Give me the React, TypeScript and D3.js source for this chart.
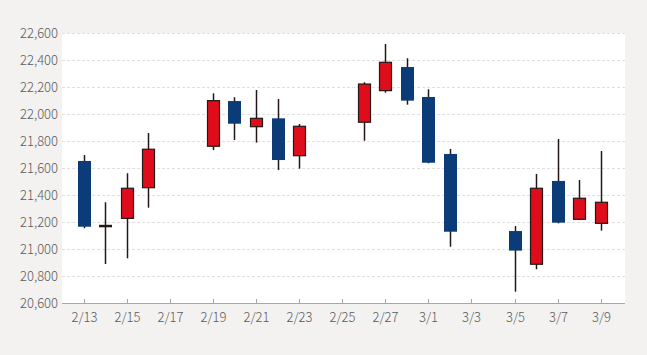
import React from "react";
import * as d3 from "d3";

const dates = ["2018-02-13","2018-02-14","2018-02-15","2018-02-16","2018-02-19","2018-02-20","2018-02-21","2018-02-22","2018-02-23","2018-02-26","2018-02-27","2018-02-28","2018-03-01","2018-03-02","2018-03-05","2018-03-06","2018-03-07","2018-03-08","2018-03-09"];
const opens =  [21652,21170,21227,21454,21761,22096,21906,21968,21691,21939,22173,22348,22126,21704,21133,20887,21504,21220,21190];
const highs =  [21696,21346,21561,21859,22153,22124,22178,22111,21926,22235,22519,22413,22183,21741,21170,21556,21815,21511,21726];
const lows =   [21154,20889,20931,21306,21733,21807,21788,21585,21595,21802,22158,22069,21635,21017,20684,20850,21190,21215,21136];
const closes = [21165,21170,21450,21739,22099,21928,21968,21659,21909,22222,22383,22099,21639,21128,20988,21450,21195,21376,21346];
const yTicks = [20600,20800,21000,21200,21400,21600,21800,22000,22200,22400,22600];
const xTickDates = ["2018-02-13","2018-02-15","2018-02-17","2018-02-19","2018-02-21","2018-02-23","2018-02-25","2018-02-27","2018-03-01","2018-03-03","2018-03-05","2018-03-07","2018-03-09"];

const parse = (s: string) => { const [y, m, d] = s.split("-").map(Number); return new Date(y, m - 1, d); };

export default function App() {
  const W = 647, H = 355;
  const L = 62, R = 625, T = 33, B = 303;
  const x = d3.scaleTime().domain([new Date(2018, 1, 12), new Date(2018, 2, 10, 3)]).range([L, R]);
  const y = d3.scaleLinear().domain([20600, 22600]).range([B, T]);
  const fmt = d3.format(",");
  const fmtDate = d3.timeFormat("%-m/%-d");
  const bw = 12;
  const red = "#df0d1b", blue = "#0b3c77", dark = "#231815";
  const font = "'Noto Sans CJK JP', 'Noto Sans', sans-serif";
  return (
    <svg width={W} height={H} style={{ position: "fixed", left: 0, top: 0, background: "#f3f2f1" }}>
      <rect x={0} y={0} width={W} height={H} fill="#f3f2f1" />
      <rect x={L} y={T} width={R - L} height={B - T} fill="#ffffff" />
      {yTicks.map((t) => (
        <g key={t}>
          {t !== 20600 && (
            <line x1={L} x2={R} y1={y(t) + 0.5} y2={y(t) + 0.5} stroke="#e0e0e0" strokeDasharray="3,2" strokeWidth={1} />
          )}
          <text x={58} y={y(t)} dy="0.36em" textAnchor="end" fontSize={13} fill="#5a5a5a" fontFamily={font} fontWeight={300}>{fmt(t)}</text>
        </g>
      ))}
      <line x1={L} x2={R} y1={B + 0.5} y2={B + 0.5} stroke="#a8a8a8" strokeWidth={1.2} />
      {xTickDates.map((s) => {
        const xv = Math.round(x(parse(s))) + 0.5;
        return (
          <g key={s}>
            <line x1={xv} x2={xv} y1={B - 4} y2={B} stroke="#a8a8a8" />
            <text x={xv} y={322} textAnchor="middle" fontSize={13} fill="#5a5a5a" fontFamily={font} fontWeight={300}>{fmtDate(parse(s))}</text>
          </g>
        );
      })}
      {dates.map((s, i) => {
        const cx = Math.round(x(parse(s))) + 0.5;
        const o = opens[i], c = closes[i], h = highs[i], l = lows[i];
        const up = c >= o;
        const top = y(Math.max(o, c)), bot = y(Math.min(o, c));
        const doji = Math.abs(o - c) < 5;
        return (
          <g key={s}>
            <line x1={cx} x2={cx} y1={y(h)} y2={y(l)} stroke={dark} strokeWidth={1.5} />
            {doji ? (
              <line x1={cx - bw / 2 - 0.5} x2={cx + bw / 2 + 0.5} y1={top} y2={top} stroke={dark} strokeWidth={2.5} />
            ) : up ? (
              <rect x={cx - bw / 2} y={top} width={bw} height={bot - top} fill={red} stroke={dark} strokeWidth={1.2} />
            ) : (
              <rect x={cx - bw / 2 - 0.5} y={top} width={bw + 1} height={bot - top} fill={blue} />
            )}
          </g>
        );
      })}
    </svg>
  );
}
